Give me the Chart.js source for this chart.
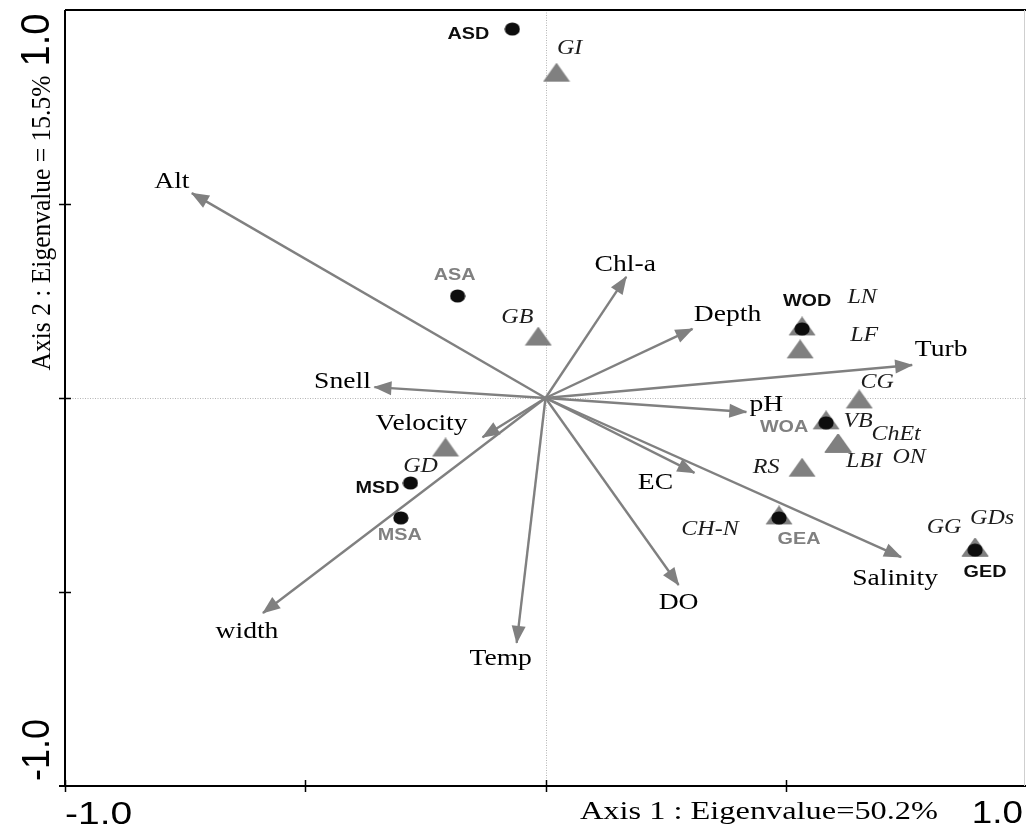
<!DOCTYPE html>
<html>
<head>
<meta charset="utf-8">
<script src="https://cdn.jsdelivr.net/npm/chart.js@4.4.0/dist/chart.umd.min.js"></script>
<style>
  html, body { margin: 0; padding: 0; background: #ffffff; }
  #wrap { width: 1026px; height: 829px; position: relative; }
</style>
</head>
<body>
<div id="wrap"><canvas id="biplot" width="1026" height="829"></canvas></div>
<script>
// ---- Environmental variables (vectors from the origin) ----
const envNames = ['Alt', 'Chl-a', 'Depth', 'Turb', 'Snell', 'pH', 'Velocity', 'EC', 'Salinity', 'DO', 'Temp', 'width'];
const envX     = [-0.736, 0.168, 0.306, 0.763, -0.356, 0.418, -0.131, 0.310, 0.740, 0.277, -0.060, -0.588];
const envY     = [ 0.528, 0.312, 0.178, 0.085,  0.028, -0.036, -0.101, -0.193, -0.410, -0.482, -0.631, -0.554];

// ---- Sites ----
const siteNames = ['ASD', 'ASA', 'WOD', 'WOA', 'MSD', 'MSA', 'GEA', 'GED'];
const siteX     = [-0.069, -0.183, 0.534, 0.584, -0.281, -0.301, 0.486, 0.894];
const siteY     = [ 0.951,  0.263, 0.178, -0.064, -0.219, -0.309, -0.309, -0.392];
const siteGroup = ['dry', 'wet', 'dry', 'wet', 'dry', 'wet', 'wet', 'dry'];

// ---- Species ----
const spNames = ['GI', 'GB', 'LN', 'LF', 'CG', 'VB', 'ChEt', 'LBI', 'ON', 'RS', 'CH-N', 'GG', 'GDs', 'GD'];
const spX     = [0.023, -0.015, 0.534, 0.530, 0.653, 0.584, 0.609, 0.609, 0.609, 0.534, 0.486, 0.894, 0.894, -0.208];
const spY     = [0.832,  0.152, 0.178, 0.119, -0.010, -0.064, -0.124, -0.124, -0.124, -0.186, -0.309, -0.392, -0.392, -0.134];

// ---- Axes ----
const tickValues = [-1, -0.5, 0, 0.5, 1];
const edgeLabels = ['-1.0', '1.0'];
const xTitle = 'Axis 1 : Eigenvalue=50.2%';
const yTitle = 'Axis 2 : Eigenvalue = 15.5%';

// ---- Label placement (pixel offsets from each mark) ----
const envLabelOffset = [[-20,-11],[-1,-12],[35,-14],[29,-15],[-32,-5],[20,-7],[-61,-13],[-39,10],[-6,22],[0,18],[-16,16],[-16,19]];
const siteLabelOffset = [[-44,5],[-3,-21],[5,-27],[-42,5],[-33,5],[-1,18],[20,22],[10,22]];
const spLabelOffset = [[13,-26],[-21,-21],[60,-31],[64,-16],[18,-19],[32,-1],[58,-11],[26,16],[71,12],[-36,-2],[-69,12],[-31,-22],[17,-31],[-25,17]];

const GREY = '#808080';
const SERIF = '"Liberation Serif", "Times New Roman", serif';
const SANS = '"Liberation Sans", Arial, sans-serif';
const STRETCH = 1.2;

// marker sprites
function makeTriangle() {
  const c = document.createElement('canvas');
  c.width = 28; c.height = 25;
  const g = c.getContext('2d');
  g.fillStyle = GREY;
  g.beginPath();
  g.moveTo(14, 0); g.lineTo(27.5, 19); g.lineTo(0.5, 19); g.closePath();
  g.fill();
  return c;
}
function makeDot() {
  const c = document.createElement('canvas');
  c.width = 16; c.height = 14;
  const g = c.getContext('2d');
  g.fillStyle = '#0d0d0d';
  g.beginPath();
  g.ellipse(8, 7, 7.6, 6.6, 0, 0, Math.PI * 2);
  g.fill();
  return c;
}

function drawText(ctx, str, x, y, o) {
  ctx.save();
  ctx.font = o.font;
  ctx.fillStyle = o.color || '#000';
  ctx.textAlign = o.align || 'center';
  ctx.textBaseline = o.baseline || 'middle';
  ctx.translate(x, y);
  ctx.scale(o.sx || 1, 1);
  if (o.rot) ctx.rotate(o.rot);
  ctx.fillText(str, 0, 0);
  ctx.restore();
}

const datasets = [];
envNames.forEach((n, i) => {
  datasets.push({
    type: 'line',
    label: n,
    data: [{ x: 0, y: 0 }, { x: envX[i], y: envY[i] }],
    borderColor: GREY,
    borderWidth: 2.4,
    pointRadius: 0,
    showLine: true,
    fill: false,
    order: 3,
    isVector: true,
    labelIndex: i
  });
});
datasets.push({
  label: 'species',
  data: spX.map((x, i) => ({ x, y: spY[i] })),
  pointStyle: makeTriangle(),
  pointRadius: 12,
  order: 2,
  isSpecies: true
});
datasets.push({
  label: 'sites',
  data: siteX.map((x, i) => ({ x, y: siteY[i] })),
  pointStyle: makeDot(),
  pointRadius: 7,
  order: 1,
  isSites: true
});

const framePlugin = {
  id: 'frame',
  beforeDatasetsDraw(chart) {
    const { ctx, chartArea: a, scales: { x, y } } = chart;
    ctx.save();
    ctx.strokeStyle = '#b4b4b4';
    ctx.lineWidth = 1;
    ctx.setLineDash([1, 1.5]);
    const x0 = Math.round(x.getPixelForValue(0)) + 0.5;
    const y0 = Math.round(y.getPixelForValue(0)) + 0.5;
    ctx.beginPath();
    ctx.moveTo(x0, a.top); ctx.lineTo(x0, a.bottom);
    ctx.moveTo(a.left, y0); ctx.lineTo(a.right, y0);
    ctx.stroke();
    ctx.restore();
  },
  afterDatasetDraw(chart, args) {
    const ds = chart.data.datasets[args.index];
    if (!ds.isVector) return;
    const pts = args.meta.data;
    const p0 = pts[0], p1 = pts[1];
    const ang = Math.atan2(p1.y - p0.y, p1.x - p0.x);
    const len = 17, half = 7;
    const ctx = chart.ctx;
    ctx.save();
    ctx.fillStyle = GREY;
    ctx.translate(p1.x, p1.y);
    ctx.rotate(ang);
    ctx.beginPath();
    ctx.moveTo(1, 0);
    ctx.lineTo(-len, -half);
    ctx.lineTo(-len, half);
    ctx.closePath();
    ctx.fill();
    ctx.restore();
  },
  afterDatasetsDraw(chart) {
    const { ctx, chartArea: a, scales: { x, y } } = chart;

    // labels of marks
    chart.data.datasets.forEach((ds, di) => {
      const meta = chart.getDatasetMeta(di);
      if (ds.isVector) {
        const p = meta.data[1], i = ds.labelIndex, o = envLabelOffset[i];
        drawText(ctx, envNames[i], p.x + o[0], p.y + o[1], { font: '23px ' + SERIF, color: '#000', sx: STRETCH });
      } else if (ds.isSpecies) {
        meta.data.forEach((p, i) => {
          const o = spLabelOffset[i];
          drawText(ctx, spNames[i], p.x + o[0], p.y + o[1], { font: 'italic 20px ' + SERIF, color: '#1c1c1c', sx: STRETCH });
        });
      } else if (ds.isSites) {
        meta.data.forEach((p, i) => {
          const o = siteLabelOffset[i];
          drawText(ctx, siteNames[i], p.x + o[0], p.y + o[1], {
            font: 'bold 16.5px ' + SANS,
            color: siteGroup[i] === 'dry' ? '#0d0d0d' : GREY,
            sx: STRETCH
          });
        });
      }
    });

    // frame
    ctx.save();
    ctx.strokeStyle = '#000';
    ctx.lineWidth = 2;
    ctx.beginPath();
    ctx.moveTo(a.left, a.top); ctx.lineTo(a.right, a.top);
    ctx.moveTo(a.left, a.top); ctx.lineTo(a.left, a.bottom);
    ctx.moveTo(a.left - 6, a.bottom); ctx.lineTo(a.right, a.bottom);
    ctx.stroke();
    ctx.strokeStyle = '#cfcfcf';
    ctx.lineWidth = 1;
    ctx.beginPath();
    ctx.moveTo(a.right - 1.5, a.top); ctx.lineTo(a.right - 1.5, a.bottom);
    ctx.stroke();

    // tick marks crossing the axes
    ctx.strokeStyle = '#000';
    ctx.lineWidth = 1.5;
    ctx.beginPath();
    tickValues.forEach(v => {
      if (v < 1) {
        const px = Math.round(x.getPixelForValue(v)) + 0.5;
        ctx.moveTo(px, a.bottom - 6); ctx.lineTo(px, a.bottom + 6);
      }
      if (v > -1 && v < 1) {
        const py = Math.round(y.getPixelForValue(v)) + 0.5;
        ctx.moveTo(a.left - 6, py); ctx.lineTo(a.left + 6, py);
      }
    });
    ctx.stroke();
    ctx.restore();

    // edge tick labels on x
    drawText(ctx, edgeLabels[0], x.getPixelForValue(-1), 824, { font: '32px ' + SANS, align: 'left', baseline: 'alphabetic', sx: 1.22 });
    drawText(ctx, edgeLabels[1], x.getPixelForValue(1) - 3, 823, { font: '32px ' + SANS, align: 'right', baseline: 'alphabetic', sx: 1.15 });
    // edge tick labels on y (rotated)
    drawText(ctx, edgeLabels[1], 49, y.getPixelForValue(1) + 30, { font: '38px ' + SANS, baseline: 'alphabetic', rot: -Math.PI / 2, sx: 1.07 });
    drawText(ctx, edgeLabels[0], 49, y.getPixelForValue(-1) - 36, { font: '36px ' + SANS, baseline: 'alphabetic', rot: -Math.PI / 2, sx: 1.1 });

    // axis titles
    ctx.save();
    ctx.font = '25.5px ' + SERIF;
    const w = ctx.measureText(xTitle).width;
    ctx.restore();
    drawText(ctx, xTitle, 580, 819, { font: '25.5px ' + SERIF, align: 'left', baseline: 'alphabetic', sx: 358 / w });
    drawText(ctx, yTitle, 50, 223, { font: '25.5px ' + SERIF, baseline: 'alphabetic', rot: -Math.PI / 2, sx: 1.08 });
  }
};

new Chart(document.getElementById('biplot'), {
  type: 'scatter',
  data: { datasets },
  options: {
    responsive: false,
    animation: false,
    devicePixelRatio: 1,
    events: [],
    layout: { autoPadding: false, padding: { left: 65, top: 10, right: 0, bottom: 43 } },
    plugins: { legend: { display: false }, tooltip: { enabled: false } },
    scales: {
      x: { type: 'linear', min: -1, max: 1, display: false },
      y: { type: 'linear', min: -1, max: 1, display: false }
    }
  },
  plugins: [framePlugin]
});
</script>
</body>
</html>
